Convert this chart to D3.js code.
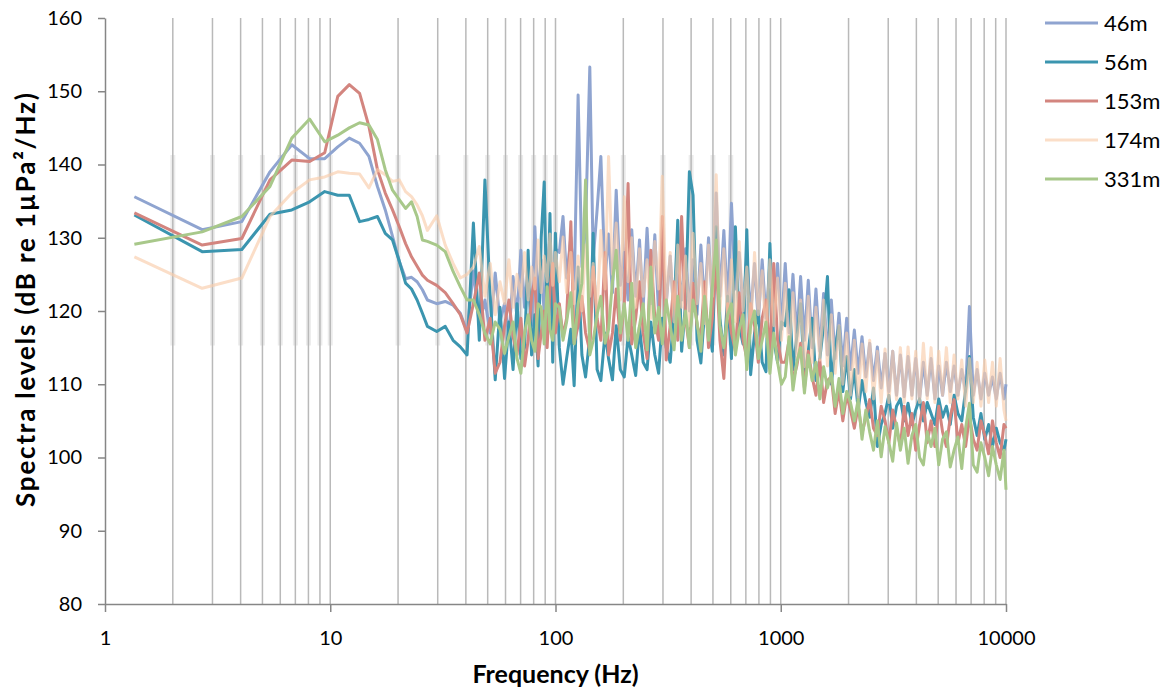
<!DOCTYPE html>
<html>
<head>
<meta charset="utf-8">
<script src="https://d3js.org/d3.v7.min.js"></script>
<style>
  body { margin: 0; background: #fff; }
  text { font-family: Lato, "Liberation Sans", sans-serif; fill: #000; }
  .axis path, .axis line { stroke: #868686; stroke-width: 1.5; }
  .axis text { font-size: 20px; }
  .title { font-size: 25px; font-weight: bold; }
</style>
</head>
<body>
<div class="chart"></div>
<script>
// frequency bins (Hz)
var freqs = [1.35, 2.7, 4.05, 5.4, 6.75, 8.1, 9.45, 10.8, 12.15, 13.5, 14.85, 16.2, 17.55, 18.9, 20.25, 21.6, 22.95, 24.3, 25.65, 27, 29.7, 32.4, 35.1, 37.8, 40.5,
  43.2, 45.9, 48.6, 51.3, 54, 56.7, 59.4, 62.1, 64.8, 67.5, 70.2, 72.9, 75.6, 78.3, 81, 83.7, 86.4, 89.1, 91.8, 94.5, 97.2, 99.9,
  104, 108, 112, 117, 121, 126, 131, 136, 142, 147, 153, 159, 166, 172, 179, 186, 194, 202, 210, 218, 227, 236, 245, 255, 265, 276, 287, 298, 310, 323,
  336, 349, 363, 378, 393, 408, 425, 442, 459, 478, 497, 517, 537, 559, 581, 604, 629, 654, 680, 707, 735, 765, 795, 827, 860, 895, 931, 968, 1007,
  1047, 1089, 1133, 1178, 1225, 1274, 1325, 1378, 1433, 1491, 1550, 1612, 1677, 1744, 1814, 1886, 1962, 2040, 2122, 2207, 2295, 2387, 2482, 2581, 2685, 2792,
  2904, 3020, 3141, 3266, 3397, 3533, 3674, 3821, 3974, 4133, 4298, 4470, 4649, 4835, 5028, 5229, 5438, 5656, 5882, 6117, 6362, 6616, 6881, 7156, 7443,
  7740, 8050, 8372, 8707, 9055, 9417, 9794, 10000];

// spectra levels (dB re 1uPa^2/Hz)
var s46 = [135.6, 131.1, 132.2, 139.0, 142.7, 140.8, 140.8, 142.4, 143.6, 142.9, 141.1, 137.0, 133.8, 130.2, 126.8, 124.4, 124.6, 124.0, 122.9, 121.5, 121.0, 121.3, 120.8, 119.7, 117.2,
  125.5, 118.0, 121.5, 117.0, 125.2, 118.5, 121.0, 116.5, 124.7, 119.0, 128.3, 120.5, 126.0, 118.0, 131.5, 121.0, 127.0, 119.5, 125.5, 130.0, 122.0, 128.5,
  128.0, 132.9, 124.5, 130.1, 123.0, 149.5, 126.0, 131.5, 153.3, 127.0, 133.8, 141.1, 124.5, 130.5, 122.5, 136.5, 123.5, 128.0, 121.5, 131.1, 122.0, 129.7, 120.5, 131.3, 121.0, 130.4, 119.5, 128.0, 121.0, 127.5,
  119.0, 126.5, 121.5, 128.5, 120.0, 127.0, 119.5, 129.0, 120.5, 130.0, 121.0, 136.1, 122.0, 131.0, 120.5, 134.7, 123.0, 128.0, 120.0, 127.5, 119.5, 126.5, 118.5, 127.0, 119.0, 126.5, 118.0, 126.5, 117.5,
  126.5, 117.0, 125.0, 116.5, 124.7, 116.0, 124.2, 115.0, 123.0, 114.5, 122.4, 114.0, 121.5, 113.5, 119.7, 112.5, 119.0, 112.0, 117.4, 111.5, 116.5, 111.0, 115.6, 110.5, 115.1, 109.5,
  114.2, 109.0, 114.5, 108.5, 114.0, 108.3, 113.8, 108.5, 113.5, 108.0, 113.0, 108.5, 113.5, 108.0, 112.5, 108.5, 113.0, 109.0, 112.5, 108.5, 112.0, 109.0, 120.6, 108.5, 112.0,
  108.0, 111.5, 108.5, 111.0, 108.0, 111.5, 108.0, 110.0];

var s56 = [133.1, 128.1, 128.4, 133.2, 133.8, 134.9, 136.3, 135.8, 135.8, 132.2, 132.5, 132.9, 130.6, 129.7, 126.8, 123.8, 123.0, 121.5, 119.7, 117.9, 117.2, 117.9, 116.0, 115.1, 114.0,
  132.0, 116.0, 137.9, 122.0, 110.6, 120.5, 110.8, 118.5, 112.0, 121.0, 113.5, 115.0, 128.3, 114.0, 119.5, 112.5, 130.0, 137.6, 118.0, 133.3, 113.0, 130.6,
  115.0, 110.0, 113.5, 117.5, 109.8, 126.0, 114.0, 111.0, 116.5, 130.6, 112.0, 110.5, 117.0, 113.5, 110.6, 118.0, 112.0, 111.0, 116.5, 114.0, 111.2, 117.9, 113.0, 112.0, 118.5, 114.0, 111.5, 119.0, 115.0, 113.0,
  120.0, 132.4, 114.5, 121.0, 139.0, 135.8, 116.0, 112.9, 120.0, 118.0, 114.5, 131.5, 119.0, 114.0, 122.0, 113.5, 131.5, 118.0, 115.5, 131.1, 111.3, 117.0, 120.0, 113.0, 111.7, 129.2, 116.0, 113.0, 118.5,
  118.0, 122.9, 112.0, 116.5, 121.0, 111.0, 114.5, 119.0, 110.5, 113.5, 118.0, 124.7, 110.0, 115.0, 117.9, 109.0, 113.8, 108.0, 112.0, 106.5, 110.5, 107.5, 105.5, 109.5, 101.5, 104.5,
  106.0, 108.5, 104.0, 107.0, 108.0, 105.0, 107.4, 104.5, 106.5, 108.0, 105.0, 107.5, 106.0, 104.5, 108.0, 105.5, 107.0, 104.5, 108.5, 106.0, 105.0, 109.2, 113.8, 105.5, 103.0,
  106.0, 102.5, 104.5, 101.5, 104.0, 102.0, 101.0, 102.5];

var s153 = [133.4, 129.0, 129.9, 137.9, 140.6, 140.4, 141.6, 149.3, 150.9, 149.7, 145.2, 139.3, 136.1, 133.8, 131.5, 129.2, 127.4, 126.1, 124.9, 124.2, 123.5, 122.5, 121.0, 119.5, 117.0,
  121.0, 125.2, 116.0, 119.0, 111.5, 113.0, 118.0, 121.5, 116.5, 114.0, 119.0, 112.5, 116.0, 122.0, 124.5, 113.5, 117.0, 120.0, 115.0, 123.0, 126.5, 117.0,
  121.0, 116.5, 119.0, 132.2, 115.6, 118.0, 122.0, 117.0, 114.5, 126.0, 119.0, 116.0, 128.0, 114.0, 117.0, 123.0, 116.0, 121.0, 137.4, 115.5, 119.0, 124.0, 117.0, 113.5, 128.3, 119.0, 116.0, 132.9, 113.3, 118.0,
  124.0, 116.0, 132.9, 119.0, 115.0, 123.8, 118.0, 116.5, 124.0, 115.0, 119.0, 127.0, 116.0, 110.8, 121.0, 117.0, 114.5, 122.5, 116.0, 113.5, 121.0, 118.0, 113.0, 119.0, 121.5, 114.0, 126.5, 116.0, 113.0,
  113.0, 116.0, 110.5, 112.5, 115.6, 109.5, 114.5, 111.0, 108.5, 113.3, 107.5, 110.5, 111.0, 106.0, 109.2, 105.0, 108.5, 106.5, 104.0, 107.0, 103.3, 105.5, 107.9, 104.0, 103.0, 107.0,
  105.0, 102.0, 106.5, 104.0, 101.5, 107.0, 103.0, 106.0, 101.0, 104.5, 107.5, 102.0, 105.0, 101.5, 107.0, 103.5, 101.5, 105.5, 107.9, 102.0, 104.5, 101.5, 105.6, 102.5, 101.0,
  105.0, 103.0, 100.5, 105.0, 102.0, 100.0, 104.5, 104.0];

var s174 = [127.4, 123.1, 124.5, 132.9, 136.1, 137.9, 138.3, 139.0, 138.8, 138.7, 136.8, 139.3, 138.6, 137.7, 137.9, 136.3, 135.6, 134.5, 133.0, 131.0, 133.0, 129.0, 126.5, 124.5, 125.0,
  126.0, 128.8, 122.0, 126.5, 119.5, 124.0, 121.0, 127.0, 120.5, 125.0, 122.0, 128.0, 121.5, 126.0, 123.0, 129.7, 122.5, 127.5, 124.0, 130.5, 123.5, 128.0,
  124.0, 130.1, 122.5, 128.0, 121.0, 127.5, 120.0, 129.0, 122.0, 126.5, 119.5, 131.0, 123.0, 141.1, 125.0, 132.0, 121.5, 135.6, 124.0, 130.0, 120.5, 128.5, 122.0, 127.0, 119.0, 129.5, 123.0, 138.4, 121.0, 128.0,
  118.5, 129.0, 120.5, 127.5, 118.0, 130.6, 121.0, 126.5, 118.3, 129.0, 122.0, 138.6, 120.0, 128.5, 119.0, 127.0, 118.5, 129.5, 120.0, 126.0, 117.0, 128.0, 119.5, 125.5, 116.5, 127.0, 118.0, 124.5, 116.0,
  123.8, 114.0, 122.5, 113.5, 121.5, 112.4, 122.0, 113.0, 120.5, 113.3, 121.5, 112.5, 119.5, 111.5, 118.0, 110.0, 117.0, 108.5, 116.0, 107.9, 115.5, 109.0, 116.0, 108.0, 114.5, 107.5,
  114.8, 107.5, 114.5, 107.9, 115.0, 107.5, 115.1, 108.0, 114.5, 107.5, 115.6, 108.0, 115.0, 107.5, 114.5, 108.5, 115.0, 107.5, 114.0, 108.0, 113.3, 107.0, 113.5, 107.5, 113.0,
  107.0, 113.3, 107.5, 113.0, 107.0, 113.5, 106.5, 105.0];

var s331 = [129.1, 130.8, 132.9, 137.0, 143.6, 146.2, 143.1, 144.0, 145.0, 145.7, 145.4, 143.4, 139.3, 136.5, 135.2, 134.0, 134.9, 132.9, 129.7, 129.5, 129.0, 128.1, 125.4, 123.3, 121.5,
  121.5, 119.5, 117.0, 115.5, 118.5, 117.5, 114.2, 116.5, 118.5, 113.5, 111.5, 117.0, 119.5, 116.0, 114.5, 121.0, 120.5, 115.5, 123.3, 117.5, 116.0, 121.0,
  120.5, 116.0, 118.5, 122.5, 115.5, 121.0, 123.8, 137.9, 114.0, 116.0, 119.5, 122.0, 115.6, 117.5, 124.0, 128.3, 117.0, 121.0, 116.0, 123.8, 115.0, 118.0, 121.0, 114.7, 126.0, 117.0, 120.5, 115.5, 121.5, 118.0,
  114.7, 122.0, 116.0, 120.0, 115.0, 121.5, 118.5, 114.5, 122.0, 116.0, 123.3, 129.7, 118.0, 115.0, 119.5, 121.0, 114.0, 117.5, 119.5, 112.0, 118.0, 120.0, 113.5, 116.0, 118.5, 111.5, 117.0, 113.0, 110.0,
  111.0, 116.5, 109.2, 113.0, 115.0, 108.8, 114.0, 110.5, 113.0, 108.0, 112.4, 109.5, 111.5, 107.0, 110.8, 106.0, 109.0, 107.5, 105.0, 107.9, 102.5, 106.5, 103.5, 101.0, 105.0, 100.1,
  104.2, 102.0, 99.5, 104.7, 101.0, 104.0, 99.2, 103.0, 104.5, 100.0, 99.0, 103.5, 101.5, 104.0, 99.0, 102.5, 103.5, 98.7, 101.0, 102.8, 98.5, 104.0, 107.4, 99.0, 98.0,
  102.0, 100.0, 97.5, 101.5, 99.0, 97.0, 101.0, 95.6];

var seriesNames = ["46m", "56m", "153m", "174m", "331m"];
var seriesValues = [s46, s56, s153, s174, s331];
var seriesColors = ["#8fa4d0", "#3b95af", "#d3857f", "#f9cdaa", "#a8c88a"];
var seriesOpacity = [1, 1, 1, 0.65, 1];
var xTicks = [1, 10, 100, 1000, 10000];
var yTicks = [80, 90, 100, 110, 120, 130, 140, 150, 160];

var w = 1173, h = 689;
var mLeft = 105, mRight = 1006, mTop = 18, mBottom = 604;

var svg = d3.select(".chart").append("svg")
  .attr("width", w)
  .attr("height", h);

var x = d3.scaleLog().domain([1, 10000]).range([mLeft, mRight]);
var y = d3.scaleLinear().domain([80, 160]).range([mBottom, mTop]);

// minor vertical gridlines 2..10 x each decade
var grid = [];
[1, 10, 100, 1000].forEach(function(d) {
  for (var k = 2; k <= 10; k++) grid.push(d * k);
});

// faint blurred band seen in the source image
svg.append("g")
  .selectAll("line")
  .data(grid.filter(function(d) { return d < 700; }))
  .enter().append("line")
  .attr("x1", function(d) { return x(d); })
  .attr("x2", function(d) { return x(d); })
  .attr("y1", y(141.3))
  .attr("y2", y(115.3))
  .attr("stroke", "#ececec")
  .attr("stroke-width", 5);

svg.append("g")
  .selectAll("line")
  .data(grid)
  .enter().append("line")
  .attr("x1", function(d) { return x(d); })
  .attr("x2", function(d) { return x(d); })
  .attr("y1", mTop)
  .attr("y2", mBottom)
  .attr("stroke", "#b9b9b9")
  .attr("stroke-width", 1.5);

svg.append("g")
  .attr("class", "axis")
  .attr("transform", "translate(0," + mBottom + ")")
  .call(d3.axisBottom(x).tickValues(xTicks).tickFormat(function(d) { return d; })
    .tickSize(8).tickSizeOuter(0).tickPadding(19));

svg.append("g")
  .attr("class", "axis")
  .attr("transform", "translate(" + mLeft + ",0)")
  .call(d3.axisLeft(y).tickValues(yTicks).tickSize(7).tickSizeOuter(0).tickPadding(16));

var line = d3.line()
  .x(function(d) { return x(d[0]); })
  .y(function(d) { return y(d[1]); });

seriesValues.forEach(function(vals, i) {
  var pts = freqs.map(function(f, j) { return [f, vals[j]]; })
    .filter(function(p) { return p[1] !== undefined; });
  svg.append("path")
    .datum(pts)
    .attr("d", line)
    .attr("fill", "none")
    .attr("stroke", seriesColors[i])
    .attr("stroke-opacity", seriesOpacity[i])
    .attr("stroke-width", 3)
    .attr("stroke-linejoin", "round");
});

// legend
var legend = svg.append("g").attr("transform", "translate(1045,23)");
seriesNames.forEach(function(name, i) {
  var row = legend.append("g").attr("transform", "translate(0," + (i * 39) + ")");
  row.append("line")
    .attr("x1", 0).attr("x2", 53)
    .attr("stroke", seriesColors[i])
    .attr("stroke-opacity", seriesOpacity[i])
    .attr("stroke-width", 3);
  row.append("text")
    .attr("x", 59)
    .attr("dy", "0.35em")
    .style("font-size", "22px")
    .text(name);
});

svg.append("text")
  .attr("class", "title")
  .attr("x", (mLeft + mRight) / 2)
  .attr("y", 683)
  .attr("text-anchor", "middle")
  .text("Frequency (Hz)");

svg.append("text")
  .attr("class", "title")
  .attr("transform", "translate(35,300) rotate(-90)")
  .attr("text-anchor", "middle")
  .style("font-size", "26px")
  .attr("textLength", 414)
  .text("Spectra levels (dB re 1µPa²/Hz)");
</script>
</body>
</html>
